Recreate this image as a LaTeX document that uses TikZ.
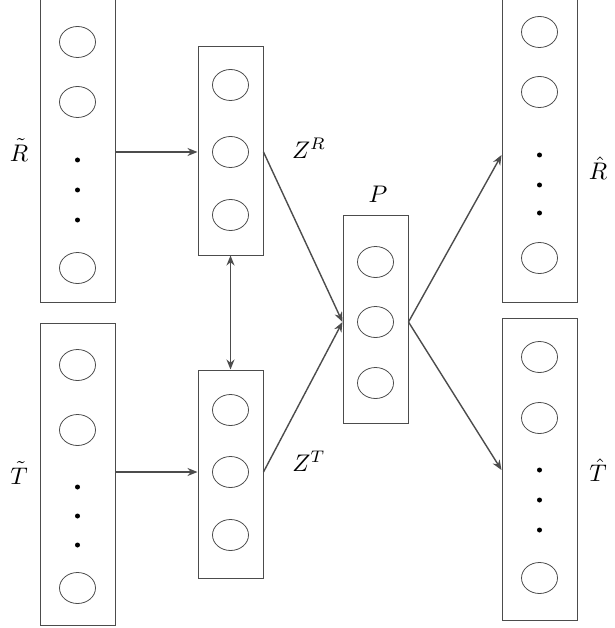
\documentclass[tikz,border=0pt]{standalone}
\usetikzlibrary{arrows.meta,shapes.geometric}
\begin{document}
\begin{tikzpicture}[x=1pt,y=-1pt,
  box/.style={draw=black!70,line width=1pt,minimum width=75pt,inner sep=0pt},
  unit/.style={draw=black!70,line width=0.8pt,ellipse,minimum width=36pt,minimum height=31pt,inner sep=0pt},
  dot/.style={fill=black,circle,minimum size=5pt,inner sep=0pt},
  lbl/.style={scale=2.4,inner sep=0pt},
  arr/.style={draw=black!70,line width=1.4pt,-{Stealth[length=10pt,width=8pt]}}]
\useasboundingbox (0,0) rectangle (614,628);
% input R
\node[box,minimum height=302pt] (rt) at (77.5,151) {};
\foreach \n/\y in {a/42,b/102,c/268} \node[unit] (rt\n) at (77.5,\y) {};
\foreach \n/\y in {1/160,2/190,3/220} \node[dot] (rtd\n) at (77.5,\y) {};
% input T
\node[box,minimum height=302pt] (tt) at (77.5,474) {};
\foreach \n/\y in {a/365,b/430,c/588} \node[unit] (tt\n) at (77.5,\y) {};
\foreach \n/\y in {1/487,2/516,3/545} \node[dot] (ttd\n) at (77.5,\y) {};
% latent
\node[box,minimum width=65pt,minimum height=208pt] (zr) at (230.5,151) {};
\foreach \n/\y in {a/85,b/152,c/215} \node[unit] (zr\n) at (230.5,\y) {};
\node[box,minimum width=65pt,minimum height=208pt] (zt) at (230.5,474) {};
\foreach \n/\y in {a/410,b/472,c/535} \node[unit] (zt\n) at (230.5,\y) {};
% P
\node[box,minimum width=65pt,minimum height=208pt] (p) at (375.5,319) {};
\foreach \n/\y in {a/262,b/322,c/383} \node[unit] (p\n) at (375.5,\y) {};
% outputs
\node[box,minimum height=302pt] (rh) at (539.5,151) {};
\foreach \n/\y in {a/32,b/92,c/258} \node[unit] (rh\n) at (539.5,\y) {};
\foreach \n/\y in {1/155,2/185,3/213} \node[dot] (rhd\n) at (539.5,\y) {};
\node[box,minimum height=302pt] (th) at (539.5,469) {};
\foreach \n/\y in {a/357,b/418,c/578} \node[unit] (th\n) at (539.5,\y) {};
\foreach \n/\y in {1/470,2/500,3/530} \node[dot] (thd\n) at (539.5,\y) {};
% labels
\node[lbl] (lrt) at (19,150) {$\tilde{R}$};
\node[lbl] (ltt) at (19,473) {$\tilde{T}$};
\node[lbl] (lzr) at (309,148) {$Z^{R}$};
\node[lbl] (lzt) at (309,461) {$Z^{T}$};
\node[lbl] (lp) at (378,194) {$P$};
\node[lbl] (lrh) at (598,168) {$\hat{R}$};
\node[lbl] (lth) at (598,470) {$\hat{T}$};
% connectors
\coordinate (rtout) at (rt.east |- zrb);
\coordinate (ttout) at (tt.east |- ztb);
\draw[arr] (rtout) -- (zr.west |- zrb);
\draw[arr] (ttout) -- (zt.west |- ztb);
\draw[arr,{Stealth[length=10pt,width=8pt]}-{Stealth[length=10pt,width=8pt]}] (zr.south) -- (zt.north);
\draw[arr] (zr.east |- zrb) -- (p.west |- pb);
\draw[arr] (zt.east |- ztb) -- (p.west |- pb);
\coordinate (pout) at (p.east |- pb);
\draw[arr] (pout) -- (rh.west |- rhd1);
\draw[arr] (pout) -- (th.west |- thd1);
\end{tikzpicture}
\end{document}
